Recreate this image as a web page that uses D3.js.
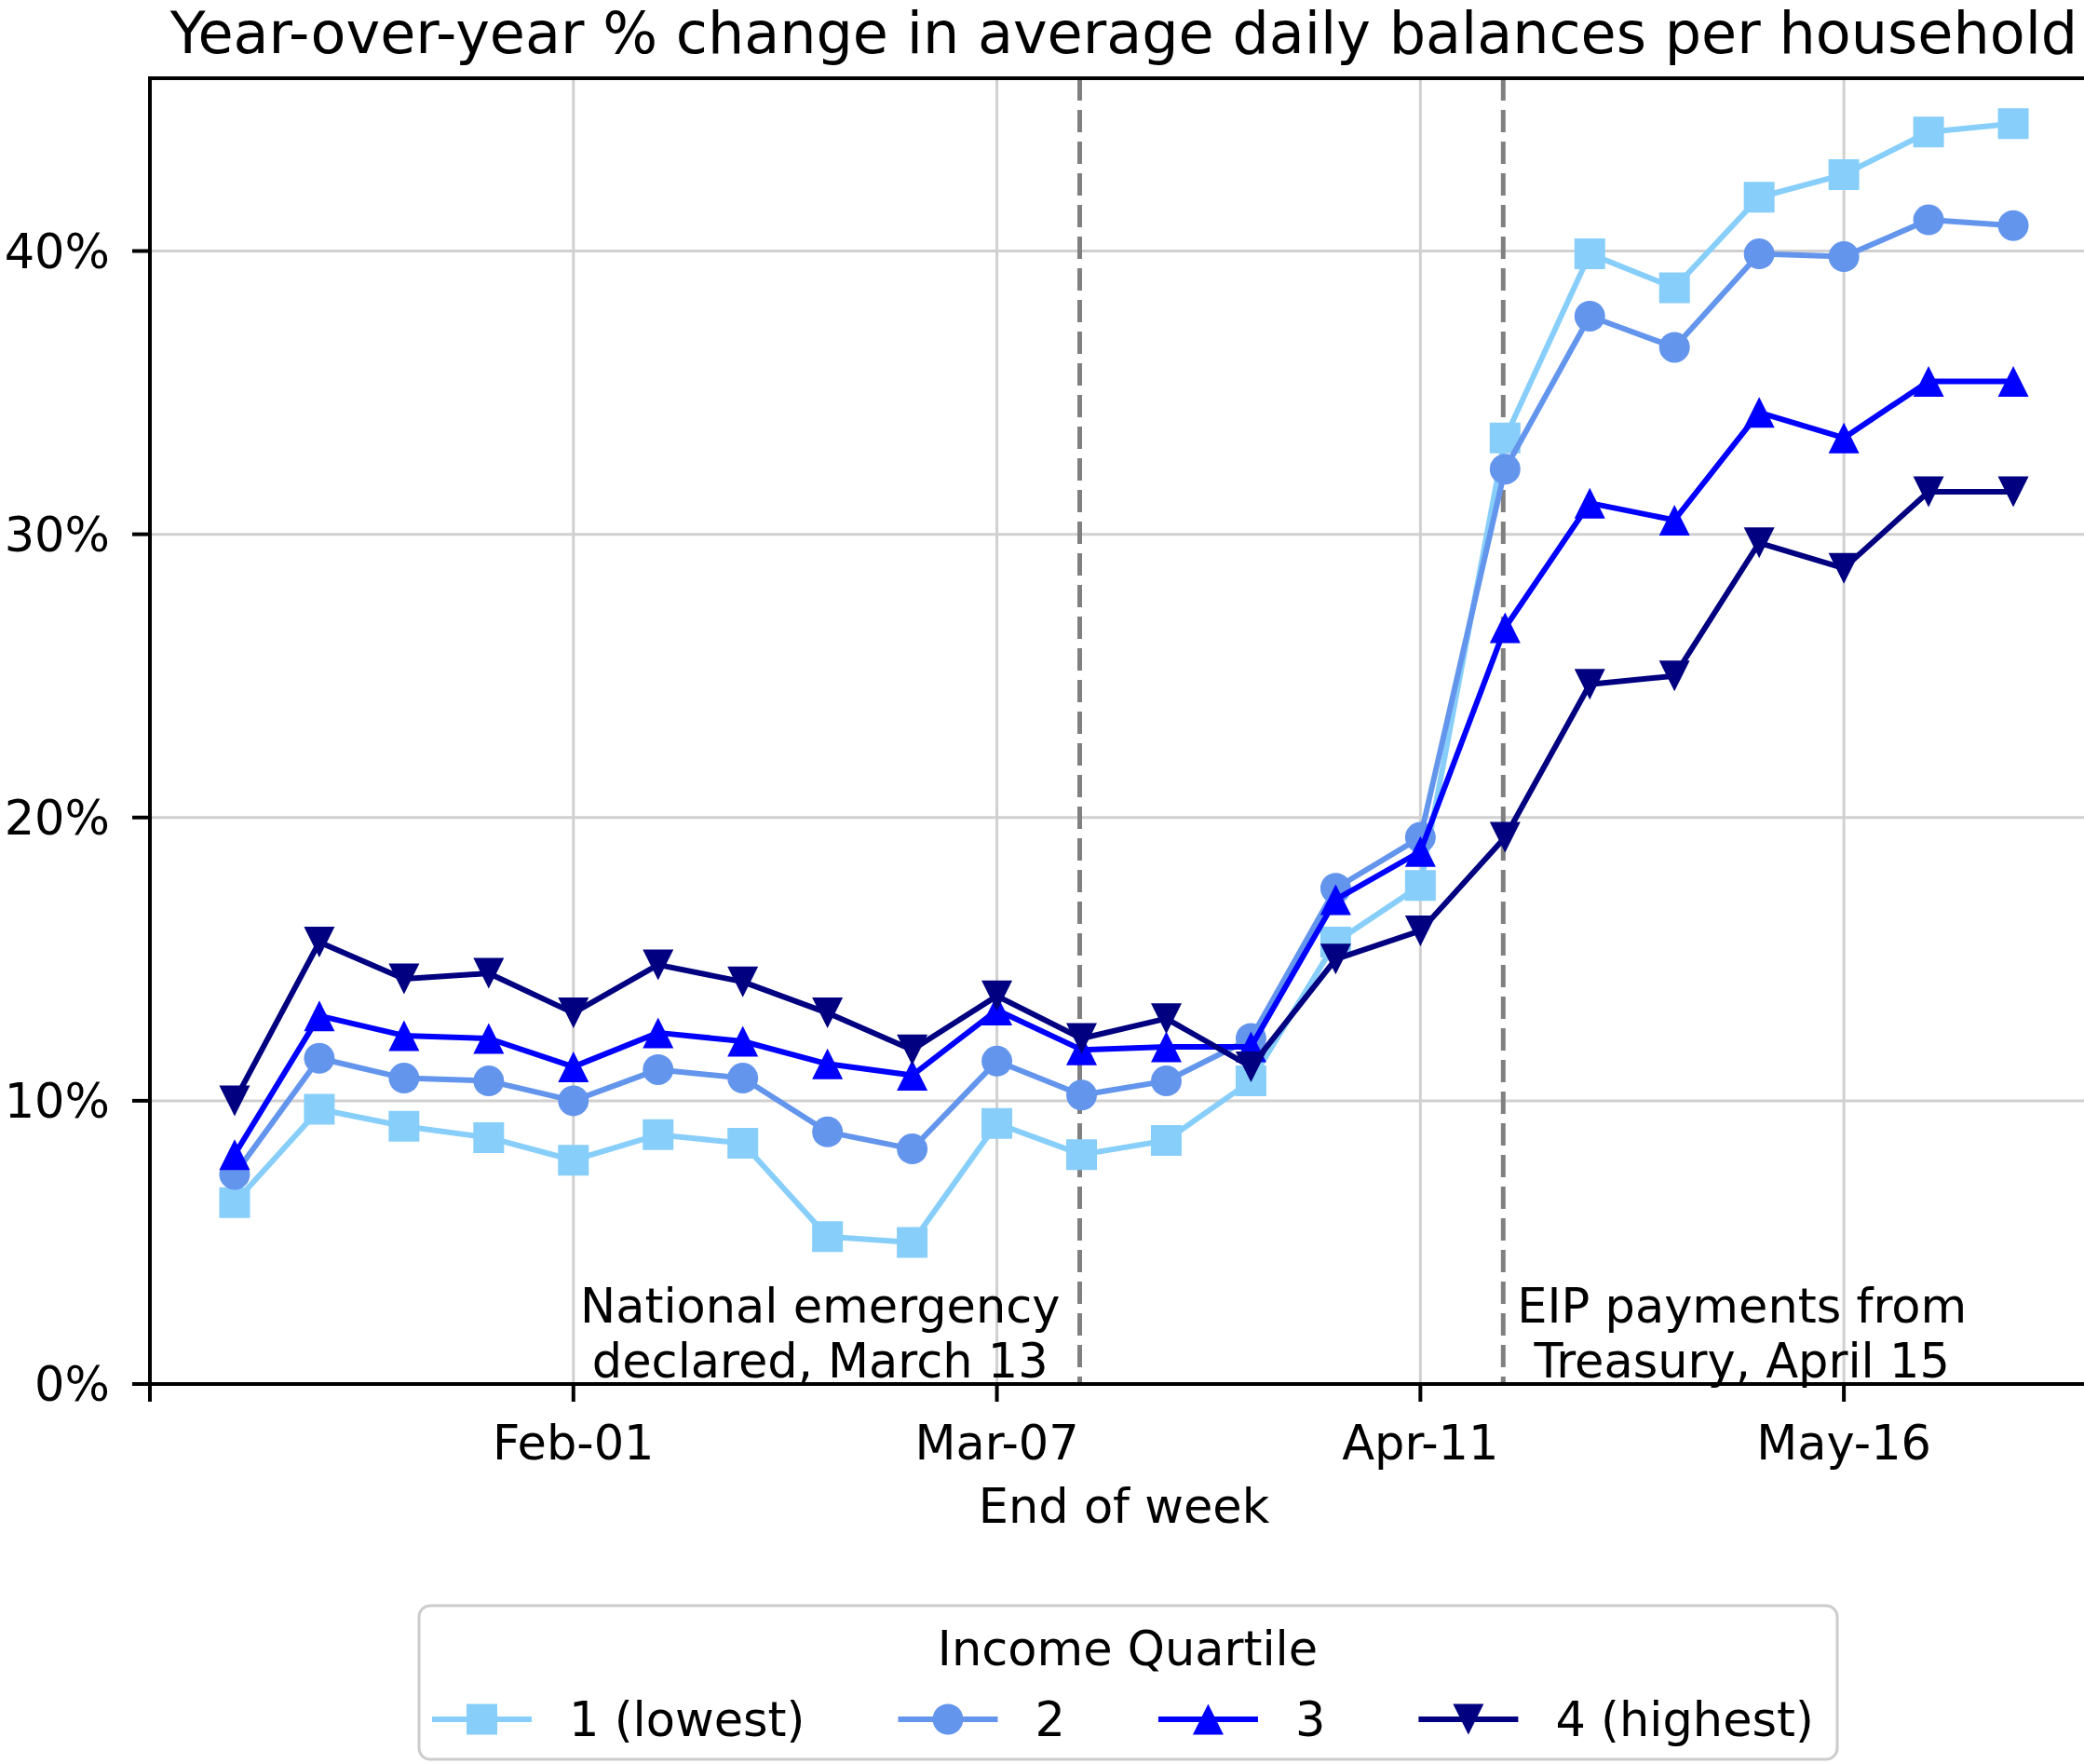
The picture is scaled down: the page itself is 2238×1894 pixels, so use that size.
<!DOCTYPE html>
<html>
<head>
<meta charset="utf-8">
<script src="https://cdn.jsdelivr.net/npm/d3@7/dist/d3.min.js"></script>
<style>
html, body { margin: 0; padding: 0; background: #fff; }
svg { display: block; font-family: "DejaVu Sans", sans-serif; }
</style>
</head>
<body>
<svg id="chart" width="2238" height="1894"></svg>
<script>
// week-ending dates (Saturdays)
const weeks = ["2020-01-04","2020-01-11","2020-01-18","2020-01-25","2020-02-01","2020-02-08",
	"2020-02-15","2020-02-22","2020-02-29","2020-03-07","2020-03-14","2020-03-21","2020-03-28",
	"2020-04-04","2020-04-11","2020-04-18","2020-04-25","2020-05-02","2020-05-09","2020-05-16",
	"2020-05-23","2020-05-30"];

// year-over-year % change, one array per income quartile
const q1 = [6.4, 9.7, 9.1, 8.7, 7.9, 8.8, 8.5, 5.2, 5.0, 9.2, 8.1, 8.6, 10.7,
	15.6, 17.6, 33.4, 39.9, 38.7, 41.9, 42.7, 44.2, 44.5];
const q2 = [7.4, 11.5, 10.8, 10.7, 10.0, 11.1, 10.8, 8.9, 8.3, 11.4, 10.2, 10.7, 12.2,
	17.5, 19.3, 32.3, 37.7, 36.6, 39.9, 39.8, 41.1, 40.9];
const q3 = [8.1, 13.0, 12.3, 12.2, 11.2, 12.4, 12.1, 11.3, 10.9, 13.2, 11.8, 11.9, 11.9,
	17.1, 18.8, 26.7, 31.1, 30.5, 34.3, 33.4, 35.4, 35.4];
const q4 = [10.0, 15.6, 14.3, 14.5, 13.1, 14.8, 14.2, 13.1, 11.8, 13.7, 12.2, 12.9, 11.2,
	15.0, 16.0, 19.3, 24.7, 25.0, 29.7, 28.8, 31.5, 31.5];

const seriesNames = ["1 (lowest)", "2", "3", "4 (highest)"];
const seriesColors = ["#87cefa", "#6495ed", "#0000ff", "#000080"];
const seriesMarkers = ["square", "circle", "triangleUp", "triangleDown"];

const yTicks = [0, 10, 20, 30, 40];
const xTickDates = ["2019-12-28", "2020-02-01", "2020-03-07", "2020-04-11", "2020-05-16"];
const xTickLabels = ["", "Feb-01", "Mar-07", "Apr-11", "May-16"];

const eventDates = ["2020-03-14", "2020-04-18"];
const eventLabels = [["National emergency", "declared, March 13"], ["EIP payments from", "Treasury, April 15"]];
const eventSides = ["left", "right"];

const title = "Year-over-year % change in average daily balances per household";
const xLabel = "End of week";
const legendTitle = "Income Quartile";

// layout
const plotLeft = 161, plotRight = 2253, plotTop = 84, plotBottom = 1486;
const fs = 51;
const markerSize = 33;

const parse = d3.utcParse("%Y-%m-%d");
const series = [q1, q2, q3, q4].map(function(vals, i){
	return { name: seriesNames[i], color: seriesColors[i], marker: seriesMarkers[i],
		values: vals.map(function(v, j){ return { date: parse(weeks[j]), value: v } }) };
});

const x = d3.scaleUtc()
	.domain([parse("2019-12-28"), parse("2020-06-06")])
	.range([plotLeft, plotRight]);
const y = d3.scaleLinear()
	.domain([0, 46.1])
	.range([plotBottom, plotTop]);

function markerPath(type, s){
	const h = s / 2;
	if (type === "square") return "M" + (-h) + "," + (-h) + "H" + h + "V" + h + "H" + (-h) + "Z";
	if (type === "circle") return "M" + h + ",0A" + h + "," + h + " 0 1,1 " + (-h) + ",0A" + h + "," + h + " 0 1,1 " + h + ",0Z";
	if (type === "triangleUp") return "M0," + (-h) + "L" + h + "," + h + "L" + (-h) + "," + h + "Z";
	return "M0," + h + "L" + h + "," + (-h) + "L" + (-h) + "," + (-h) + "Z";
}

const svg = d3.select("#chart");

svg.append("defs").append("clipPath").attr("id", "plot")
	.append("rect").attr("x", plotLeft).attr("y", plotTop)
	.attr("width", plotRight - plotLeft).attr("height", plotBottom - plotTop);

// grid
const grid = svg.append("g").attr("class", "grid")
	.style("stroke", "#d0d0d0").style("stroke-width", 3);
grid.selectAll("line.h").data(yTicks).enter().append("line")
	.attr("x1", plotLeft).attr("x2", plotRight)
	.attr("y1", function(d){ return y(d) }).attr("y2", function(d){ return y(d) });
grid.selectAll("line.v").data(xTickDates.slice(1)).enter().append("line")
	.attr("x1", function(d){ return x(parse(d)) }).attr("x2", function(d){ return x(parse(d)) })
	.attr("y1", plotTop).attr("y2", plotBottom);

// event lines
svg.append("g").selectAll("line").data(eventDates).enter().append("line")
	.attr("x1", function(d){ return x(parse(d)) - 2 }).attr("x2", function(d){ return x(parse(d)) - 2 })
	.attr("y1", plotTop).attr("y2", plotBottom)
	.style("stroke", "#808080").style("stroke-width", 5).style("stroke-dasharray", "24,10");

// series
const line = d3.line().x(function(d){ return x(d.date) }).y(function(d){ return y(d.value) });
const plot = svg.append("g").attr("clip-path", "url(#plot)");
series.forEach(function(s){
	const g = plot.append("g");
	g.append("path").datum(s.values)
		.attr("d", line)
		.style("fill", "none").style("stroke", s.color).style("stroke-width", 6)
		.style("stroke-linejoin", "round");
	g.selectAll("path.m").data(s.values).enter().append("path")
		.attr("class", "m")
		.attr("d", markerPath(s.marker, markerSize))
		.attr("transform", function(d){ return "translate(" + x(d.date) + "," + y(d.value) + ")" })
		.style("fill", s.color);
});

// annotations
eventDates.forEach(function(d, i){
	const xl = x(parse(d));
	const g = svg.append("g").style("font-size", fs + "px").style("fill", "#000");
	const texts = eventLabels[i].map(function(t, k){
		return g.append("text").attr("y", 1420 + k * 59).style("text-anchor", "middle").text(t);
	});
	const w = d3.max(texts, function(t){ return t.node().getComputedTextLength() });
	const cx = eventSides[i] === "left" ? xl - 23 - w / 2 : xl + 13 + w / 2;
	texts.forEach(function(t){ t.attr("x", cx) });
});

// spines
const spines = svg.append("g").style("stroke", "#000").style("stroke-width", 4).style("stroke-linecap", "square");
spines.append("line").attr("x1", plotLeft).attr("x2", plotLeft).attr("y1", plotTop).attr("y2", plotBottom);
spines.append("line").attr("x1", plotLeft).attr("x2", plotRight).attr("y1", plotBottom).attr("y2", plotBottom);
spines.append("line").attr("x1", plotLeft).attr("x2", plotRight).attr("y1", plotTop).attr("y2", plotTop);

// y axis
const yAxis = svg.append("g").style("font-size", fs + "px");
yAxis.selectAll("line").data(yTicks).enter().append("line")
	.attr("x1", plotLeft - 19).attr("x2", plotLeft)
	.attr("y1", function(d){ return y(d) }).attr("y2", function(d){ return y(d) })
	.style("stroke", "#000").style("stroke-width", 4);
yAxis.selectAll("text").data(yTicks).enter().append("text")
	.attr("x", 118).attr("y", function(d){ return y(d) + 18 })
	.style("text-anchor", "end")
	.text(function(d){ return d + "%" });

// x axis
const xAxis = svg.append("g").style("font-size", fs + "px");
xAxis.selectAll("line").data(xTickDates).enter().append("line")
	.attr("x1", function(d){ return x(parse(d)) }).attr("x2", function(d){ return x(parse(d)) })
	.attr("y1", plotBottom).attr("y2", plotBottom + 19)
	.style("stroke", "#000").style("stroke-width", 4);
xAxis.selectAll("text").data(xTickDates).enter().append("text")
	.attr("x", function(d){ return x(parse(d)) }).attr("y", 1567)
	.style("text-anchor", "middle")
	.text(function(d, i){ return xTickLabels[i] });

svg.append("text").attr("x", (plotLeft + plotRight) / 2).attr("y", 1635)
	.style("text-anchor", "middle").style("font-size", fs + "px").text(xLabel);

// title
svg.append("text").attr("x", (plotLeft + plotRight) / 2).attr("y", 57)
	.style("text-anchor", "middle").style("font-size", "62px").text(title);

// legend
const lg = svg.append("g");
lg.append("rect").attr("x", 450).attr("y", 1724).attr("width", 1523).attr("height", 165)
	.attr("rx", 12).attr("ry", 12)
	.style("fill", "#fff").style("stroke", "#cccccc").style("stroke-width", 3);
lg.append("text").attr("x", 1211).attr("y", 1788).style("text-anchor", "middle")
	.style("font-size", fs + "px").text(legendTitle);
let lx = 464;
const ly = 1846;
series.forEach(function(s){
	lg.append("line").attr("x1", lx).attr("x2", lx + 107).attr("y1", ly).attr("y2", ly)
		.style("stroke", s.color).style("stroke-width", 6);
	lg.append("path").attr("d", markerPath(s.marker, markerSize))
		.attr("transform", "translate(" + (lx + 53.5) + "," + ly + ")").style("fill", s.color);
	const t = lg.append("text").attr("x", lx + 107 + 40).attr("y", ly + 18)
		.style("font-size", fs + "px").text(s.name);
	lx = lx + 107 + 40 + t.node().getComputedTextLength() + 100;
});
</script>
</body>
</html>
